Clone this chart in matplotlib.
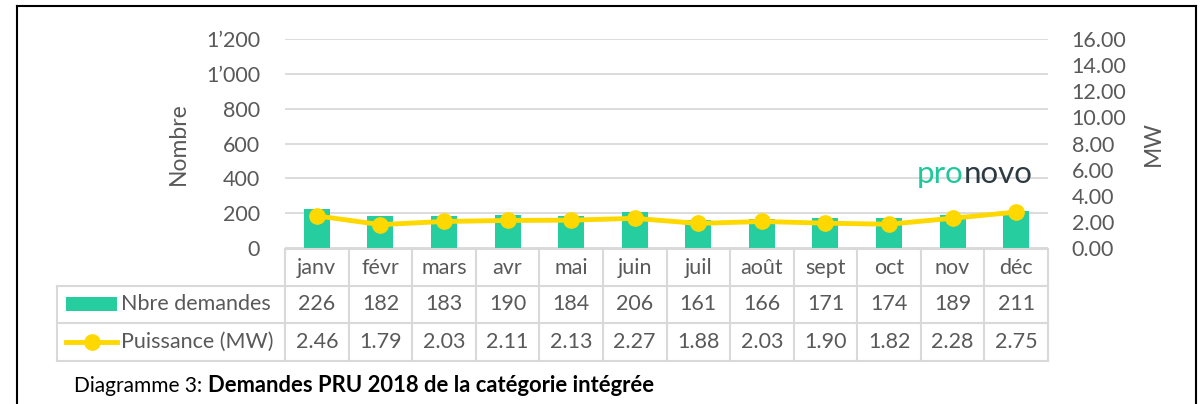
import matplotlib
matplotlib.use("Agg")
import matplotlib.pyplot as plt
import matplotlib.transforms as mtransforms
from matplotlib.ticker import FuncFormatter, MultipleLocator
from matplotlib.lines import Line2D
from matplotlib.patches import Rectangle

months = ["janv", "févr", "mars", "avr", "mai", "juin", "juil", "août", "sept", "oct", "nov", "déc"]
nbre_demandes = [226, 182, 183, 190, 184, 206, 161, 166, 171, 174, 189, 211]
puissance_mw = [2.46, 1.79, 2.03, 2.11, 2.13, 2.27, 1.88, 2.03, 1.90, 1.82, 2.28, 2.75]

GREEN = "#26CD9E"
YELLOW = "#FFD800"
GRID = "#D9D9D9"
TXT = "#595959"
FS = 15.5

plt.rcParams["font.family"] = ["Lato", "DejaVu Sans"]

W, H = 1203, 404
fig = plt.figure(figsize=(W / 100, H / 100), dpi=100)


def fy(py):
    return 1 - py / H


def fx(px):
    return px / W


ax_left, ax_right, ax_top, ax_bot = 285, 1048, 39, 248
ax = fig.add_axes([fx(ax_left), fy(ax_bot), fx(ax_right - ax_left), (ax_bot - ax_top) / H])
x = list(range(len(months)))

ax.bar(x, nbre_demandes, width=0.41, color=GREEN, zorder=2)
ax.set_xlim(-0.5, len(months) - 0.5)
ax.set_ylim(0, 1200)
ax.yaxis.set_major_locator(MultipleLocator(200))
ax.yaxis.set_major_formatter(FuncFormatter(lambda v, p: f"{int(v):,}".replace(",", "\u2019")))
ax.grid(axis="y", color=GRID, linewidth=1.3, zorder=0)
ax.set_xticks([])
for s in ax.spines.values():
    s.set_visible(False)
ax.tick_params(axis="y", length=0, labelsize=FS, labelcolor=TXT, pad=18)
ax.set_ylabel("Nombre", fontsize=16.5, color=TXT, labelpad=12)

ax2 = ax.twinx()
ax2.plot(x, puissance_mw, color=YELLOW, linewidth=3.5, marker="o", markersize=11, zorder=3)
ax2.set_ylim(0, 16)
ax2.yaxis.set_major_locator(MultipleLocator(2))
ax2.yaxis.set_major_formatter(FuncFormatter(lambda v, p: f"{v:.2f}"))
for s in ax2.spines.values():
    s.set_visible(False)
ax2.tick_params(axis="y", length=0, labelsize=FS, labelcolor=TXT, pad=17)
ax2.set_ylabel("MW", fontsize=16.5, color=TXT, labelpad=12)
ax.set_zorder(1)
ax2.set_zorder(2)
ax2.patch.set_visible(False)

# logo area: white box breaking the gridline
ax.add_patch(Rectangle((9.3, 340), 2.2, 120, facecolor="white", edgecolor="none", zorder=1))
t1 = fig.text(fx(917), fy(174), "pro", fontsize=22.5, color="#1FC79B", va="center", ha="left")
fig.canvas.draw()
bb = t1.get_window_extent()
fig.text(bb.x1 / W, fy(174), "novo", fontsize=22.5, color="#2C3A43", va="center", ha="left")

# data table
tr = mtransforms.blended_transform_factory(ax.transData, fig.transFigure)
rows_y = [249, 286, 323, 361]
lc = dict(color=GRID, linewidth=1.5, clip_on=False)
n = len(months)
fig.add_artist(Line2D([-0.5, n - 0.5], [fy(rows_y[0])] * 2, transform=tr, **lc))
for py in rows_y[1:]:
    fig.add_artist(Line2D([fx(57), fx(ax_right)], [fy(py)] * 2, transform=fig.transFigure, **lc))
for i in range(n + 1):
    fig.add_artist(Line2D([i - 0.5] * 2, [fy(rows_y[0]), fy(rows_y[-1])], transform=tr, **lc))
fig.add_artist(Line2D([fx(57)] * 2, [fy(rows_y[1]), fy(rows_y[-1])], transform=fig.transFigure, **lc))

row_c = [(rows_y[k] + rows_y[k + 1]) / 2 for k in range(3)]
for i in range(n):
    fig.text(0, fy(row_c[0]), months[i], transform=tr, ha="center", va="center",
             fontsize=FS, color=TXT).set_x(i)
    fig.text(0, fy(row_c[1]), str(nbre_demandes[i]), transform=tr, ha="center", va="center",
             fontsize=FS, color=TXT).set_x(i)
    fig.text(0, fy(row_c[2]), f"{puissance_mw[i]:.2f}", transform=tr, ha="center", va="center",
             fontsize=FS, color=TXT).set_x(i)

# legend keys in the table
fig.add_artist(Rectangle((fx(66), fy(311)), fx(51), 14 / H, facecolor=GREEN, edgecolor="none",
                         transform=fig.transFigure))
fig.add_artist(Line2D([fx(66), fx(117)], [fy(row_c[2])] * 2, color=YELLOW, linewidth=3.5,
                      transform=fig.transFigure))
fig.add_artist(Line2D([fx(91.5)], [fy(row_c[2])], color=YELLOW, marker="o", markersize=11,
                      transform=fig.transFigure))
fig.text(fx(121), fy(row_c[1]), "Nbre demandes", ha="left", va="center", fontsize=FS, color=TXT)
fig.text(fx(121), fy(row_c[2]), "Puissance (MW)", ha="left", va="center", fontsize=FS, color=TXT)

# caption
c1 = fig.text(fx(74), fy(386), "Diagramme 3: ", ha="left", va="center", fontsize=15, color="black")
fig.canvas.draw()
bb = c1.get_window_extent()
fig.text(bb.x1 / W, fy(386), "Demandes PRU 2018 de la catégorie intégrée", ha="left", va="center",
         fontsize=15.8, fontweight="bold", color="black")

# outer frame
frame = dict(color="black", linewidth=1.5, transform=fig.transFigure)
fig.add_artist(Line2D([fx(17), fx(1196)], [fy(6)] * 2, **frame))
fig.add_artist(Line2D([fx(17)] * 2, [fy(6), 0], **frame))
fig.add_artist(Line2D([fx(1196)] * 2, [fy(6), 0], **frame))

fig.savefig("out.png", dpi=100)
